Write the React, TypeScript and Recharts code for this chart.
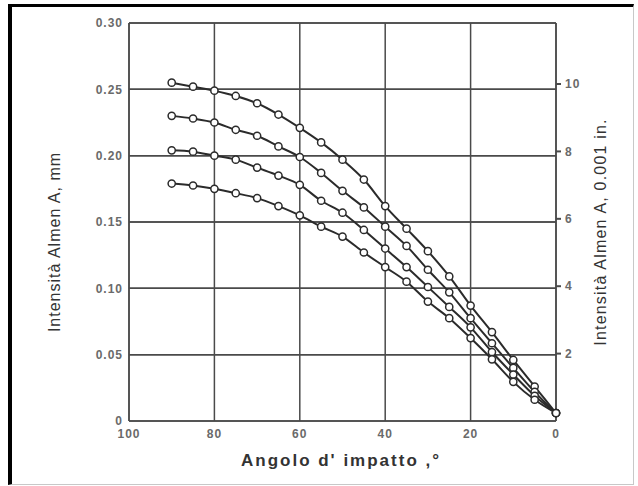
import React from "react";
import { LineChart, Line, XAxis, YAxis, CartesianGrid, ReferenceLine } from "recharts";

const angles = [90, 85, 80, 75, 70, 65, 60, 55, 50, 45, 40, 35, 30, 25, 20, 15, 10, 5, 0];
const serieA = [0.255, 0.252, 0.249, 0.245, 0.2395, 0.231, 0.221, 0.21, 0.197, 0.182, 0.162, 0.145, 0.128, 0.109, 0.087, 0.067, 0.046, 0.026, 0.006];
const serieB = [0.23, 0.228, 0.225, 0.2195, 0.215, 0.207, 0.199, 0.187, 0.1735, 0.161, 0.1465, 0.132, 0.114, 0.097, 0.0775, 0.0586, 0.04, 0.022, 0.006];
const serieC = [0.204, 0.203, 0.2, 0.197, 0.191, 0.185, 0.178, 0.166, 0.157, 0.144, 0.13, 0.116, 0.101, 0.086, 0.0706, 0.052, 0.035, 0.019, 0.006];
const serieD = [0.179, 0.1775, 0.175, 0.1717, 0.168, 0.162, 0.155, 0.1465, 0.139, 0.127, 0.116, 0.105, 0.09, 0.0775, 0.0625, 0.0465, 0.0295, 0.016, 0.006];

const xTicks = [0, 20, 40, 60, 80, 100];
const yTicksMm = [0, 0.05, 0.1, 0.15, 0.2, 0.25, 0.3];
const yTicksIn = [2, 4, 6, 8, 10];
const yMaxMm = 0.3;
const yMaxIn = 0.3 / 0.0254;

const data = angles.map((a, i) => ({
  angle: a,
  a: serieA[i],
  b: serieB[i],
  c: serieC[i],
  d: serieD[i],
}));

const LINE = "#2b2b2b";
const GRID = "#4a4a4a";
const TICK = { fill: "#6a6a6a", fontSize: 12, fontWeight: 700, fontFamily: "Liberation Sans, Arial, sans-serif", letterSpacing: 1 };

const dot = { r: 3.6, fill: "#ffffff", stroke: LINE, strokeWidth: 1.5 };

export default function App() {
  const keys = ["a", "b", "c", "d"];
  return (
    <div style={{ position: "relative", width: 638, height: 486, background: "#fff", fontFamily: "Liberation Sans, Arial, sans-serif" }}>
      <style>{`body{margin:0}`}</style>
      <div
        style={{
          position: "absolute",
          left: 8,
          top: 4,
          width: 626,
          height: 481,
          boxSizing: "border-box",
          borderLeft: "4px solid #000",
          borderTop: "3px solid #000",
          borderRight: "1px solid #c8c8c8",
          borderBottom: "1px solid #c8c8c8",
        }}
      />
      <div style={{ position: "absolute", left: 0, top: 0 }}>
        <LineChart width={638} height={486} data={data} margin={{ top: 23, right: 0, bottom: 0, left: 0 }}>
          <CartesianGrid stroke={GRID} strokeWidth={1.5} horizontalValues={yTicksMm} />
          <XAxis
            dataKey="angle"
            type="number"
            domain={[0, 100]}
            reversed
            ticks={xTicks}
            height={65}
            tickLine={false}
            axisLine={{ stroke: GRID, strokeWidth: 1.5 }}
            tick={TICK}
            tickMargin={2}
          />
          <YAxis
            type="number"
            domain={[0, yMaxMm]}
            ticks={yTicksMm}
            width={129}
            tickLine={false}
            axisLine={{ stroke: GRID, strokeWidth: 1.5 }}
            tick={TICK}
            tickFormatter={(v: number) => (v === 0 ? "0" : v.toFixed(2))}
            tickMargin={0}
          />
          <YAxis
            yAxisId={1}
            orientation="right"
            type="number"
            domain={[0, yMaxIn]}
            ticks={yTicksIn}
            width={82}
            tickSize={5}
            tickLine={{ stroke: GRID, strokeWidth: 2 }}
            axisLine={{ stroke: GRID, strokeWidth: 1.5 }}
            tick={TICK}
            tickMargin={4}
            allowDataOverflow
          />
          {yTicksMm.slice(1).map((v) => (
            <ReferenceLine key={v} y={v} stroke={GRID} strokeWidth={1.5} ifOverflow="visible" />
          ))}
          {keys.map((k) => (
            <Line
              key={k}
              type="monotone"
              dataKey={k}
              stroke={LINE}
              strokeWidth={2}
              dot={dot}
              isAnimationActive={false}
            />
          ))}
        </LineChart>
      </div>
      <div
        style={{
          position: "absolute",
          left: 55,
          top: 242,
          transform: "translate(-50%, -50%) rotate(-90deg)",
          whiteSpace: "nowrap",
          fontSize: 16,
          letterSpacing: 1,
          color: "#333",
        }}
      >
        Intensità Almen A, mm
      </div>
      <div
        style={{
          position: "absolute",
          left: 601,
          top: 232,
          transform: "translate(-50%, -50%) rotate(-90deg)",
          whiteSpace: "nowrap",
          fontSize: 16,
          letterSpacing: 1.2,
          color: "#333",
        }}
      >
        Intensità Almen A, 0.001 in.
      </div>
      <div
        style={{
          position: "absolute",
          left: 341,
          top: 461,
          transform: "translate(-50%, -50%)",
          whiteSpace: "nowrap",
          fontSize: 17,
          fontWeight: 700,
          letterSpacing: 2,
          color: "#333",
        }}
      >
        Angolo d' impatto ,°
      </div>
    </div>
  );
}
